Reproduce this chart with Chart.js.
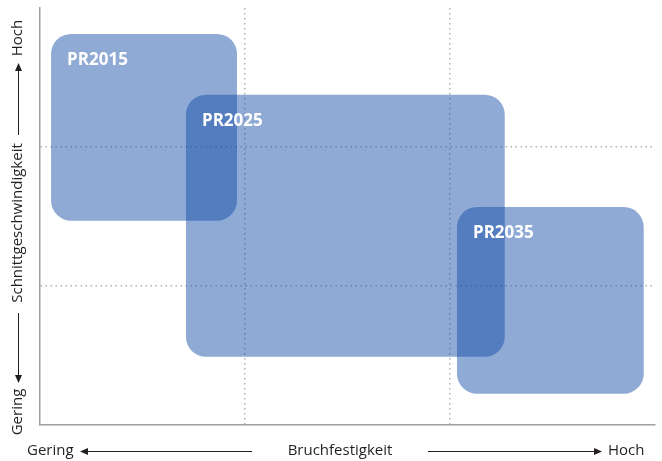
<!DOCTYPE html>
<html>
<head>
<meta charset="utf-8">
<script src="https://cdn.jsdelivr.net/npm/chart.js@4/dist/chart.umd.min.js"></script>
<style>
  html, body { margin: 0; padding: 0; background: #fff; }
  #wrap { width: 662px; height: 461px; position: relative; }
</style>
</head>
<body>
<div id="wrap"><canvas id="c" width="662" height="461"></canvas></div>
<script>
// ---- data ----
const boxLabels = ['PR2015', 'PR2025', 'PR2035'];
const boxXMin = [0.054, 0.712, 2.034];
const boxXMax = [0.961, 2.267, 2.945];
const boxYMin = [1.47, 0.491, 0.225];
const boxYMax = [2.813, 2.376, 1.568];
const gridTicks = [1, 2];
const xAxisTitle = 'Bruchfestigkeit';
const yAxisTitle = 'Schnittgeschwindigkeit';
const lowLabel = 'Gering';
const highLabel = 'Hoch';

const FONT = '"Open Sans", "DejaVu Sans", sans-serif';
const BOX_FILL = 'rgba(18,75,166,0.47)';

const boxPlugin = {
  id: 'boxes',
  beforeDatasetsDraw(chart) {
    const ctx = chart.ctx, xs = chart.scales.x, ys = chart.scales.y;
    ctx.save();
    for (let i = 0; i < boxLabels.length; i++) {
      const x0 = xs.getPixelForValue(boxXMin[i]);
      const x1 = xs.getPixelForValue(boxXMax[i]);
      const y0 = ys.getPixelForValue(boxYMax[i]);
      const y1 = ys.getPixelForValue(boxYMin[i]);
      ctx.beginPath();
      ctx.roundRect(x0, y0, x1 - x0, y1 - y0, 20);
      ctx.fillStyle = BOX_FILL;
      ctx.fill();
    }
    ctx.fillStyle = '#ffffff';
    ctx.font = 'bold 17px ' + FONT;
    ctx.textBaseline = 'alphabetic';
    ctx.textAlign = 'left';
    for (let i = 0; i < boxLabels.length; i++) {
      const x0 = xs.getPixelForValue(boxXMin[i]);
      const y0 = ys.getPixelForValue(boxYMax[i]);
      ctx.fillText(boxLabels[i], x0 + 16, y0 + 31);
    }
    ctx.restore();
  },
  afterDraw(chart) {
    const ctx = chart.ctx;
    ctx.save();
    ctx.fillStyle = '#231f20';
    ctx.strokeStyle = '#231f20';
    ctx.lineWidth = 1;
    ctx.font = '15px ' + FONT;
    ctx.textBaseline = 'middle';
    const head = (x, y, dir) => {
      ctx.beginPath();
      if (dir === 'left') { ctx.moveTo(x, y); ctx.lineTo(x + 8, y - 3.5); ctx.lineTo(x + 8, y + 3.5); }
      if (dir === 'right') { ctx.moveTo(x, y); ctx.lineTo(x - 8, y - 3.5); ctx.lineTo(x - 8, y + 3.5); }
      if (dir === 'up') { ctx.moveTo(x, y); ctx.lineTo(x - 3.5, y + 8); ctx.lineTo(x + 3.5, y + 8); }
      if (dir === 'down') { ctx.moveTo(x, y); ctx.lineTo(x - 3.5, y - 8); ctx.lineTo(x + 3.5, y - 8); }
      ctx.closePath(); ctx.fill();
    };
    const line = (x0, y0, x1, y1) => { ctx.beginPath(); ctx.moveTo(x0, y0); ctx.lineTo(x1, y1); ctx.stroke(); };
    // x axis annotation
    const ty = 451;
    ctx.textAlign = 'left';
    ctx.fillText(lowLabel, 27, ty);
    line(82, ty + 0.5, 252, ty + 0.5); head(80, ty + 0.5, 'left');
    ctx.textAlign = 'center';
    ctx.fillText(xAxisTitle, 340, ty);
    line(428, ty + 0.5, 596, ty + 0.5); head(602, ty + 0.5, 'right');
    ctx.textAlign = 'left';
    ctx.fillText(highLabel, 608, ty);
    // y axis annotation
    const tx = 18.5;
    line(tx, 66, tx, 135); head(tx, 63, 'up');
    line(tx, 313, tx, 378); head(tx, 383, 'down');
    const vtext = (t, cy) => {
      ctx.save(); ctx.translate(tx - 1, cy); ctx.rotate(-Math.PI / 2);
      ctx.textAlign = 'center'; ctx.fillText(t, 0, 0); ctx.restore();
    };
    vtext(highLabel, 38);
    vtext(yAxisTitle, 223);
    vtext(lowLabel, 412);
    ctx.restore();
  }
};

const scaleCommon = {
  type: 'linear', min: 0, max: 3, z: 1,
  ticks: { display: false },
  afterBuildTicks(scale) { scale.ticks = gridTicks.map(v => ({ value: v })); },
  afterFit(scale) { if (scale.isHorizontal()) scale.height = 0; else scale.width = 0; },
  grid: { color: 'rgba(165,165,165,0.85)', lineWidth: 1.5, drawTicks: false },
  border: { display: true, color: '#a0a0a0', width: 1.5, dash: [1.5, 3.5] }
};

new Chart(document.getElementById('c'), {
  type: 'scatter',
  data: { datasets: [{ data: boxLabels.map((l, i) => ({ x: boxXMin[i], y: boxYMin[i] })), pointRadius: 0, showLine: false }] },
  options: {
    responsive: false, animation: false, devicePixelRatio: 1,
    layout: { padding: { left: 40, top: 8, right: 7, bottom: 36 } },
    plugins: { legend: { display: false }, tooltip: { enabled: false } },
    scales: {
      x: Object.assign({}, scaleCommon, { position: 'bottom' }),
      y: Object.assign({}, scaleCommon, { position: 'left' })
    }
  },
  plugins: [boxPlugin]
});
</script>
</body>
</html>
